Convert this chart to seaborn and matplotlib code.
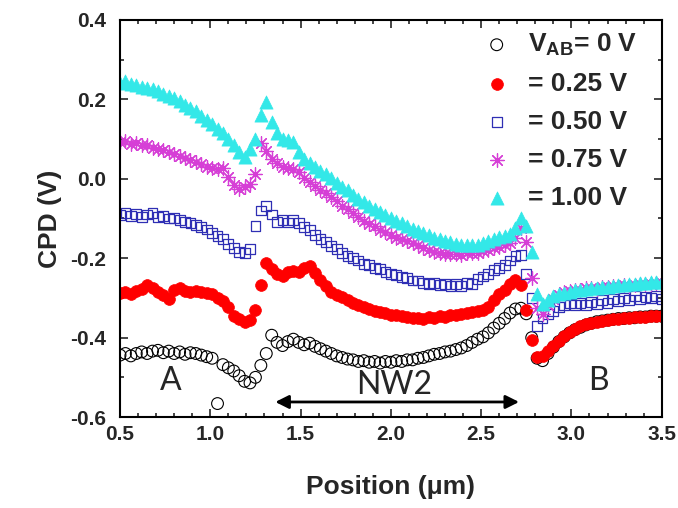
import numpy as np
import pandas as pd
import matplotlib
matplotlib.use("Agg")
import matplotlib.pyplot as plt
from matplotlib.ticker import MultipleLocator
import seaborn as sns

# Scan positions (um), shared by all bias voltages
position = [
    0.50, 0.53, 0.56, 0.59, 0.62, 0.65, 0.68, 0.71, 0.74, 0.77,
    0.80, 0.83, 0.86, 0.89, 0.92, 0.95, 0.98, 1.01, 1.04, 1.07,
    1.10, 1.13, 1.16, 1.19, 1.22, 1.25, 1.28, 1.31, 1.34, 1.37,
    1.40, 1.43, 1.46, 1.49, 1.52, 1.55, 1.58, 1.61, 1.64, 1.67,
    1.70, 1.73, 1.76, 1.79, 1.82, 1.85, 1.88, 1.91, 1.94, 1.97,
    2.00, 2.03, 2.06, 2.09, 2.12, 2.15, 2.18, 2.21, 2.24, 2.27,
    2.30, 2.33, 2.36, 2.39, 2.42, 2.45, 2.48, 2.51, 2.54, 2.57,
    2.60, 2.63, 2.66, 2.69, 2.72, 2.75, 2.78, 2.81, 2.84, 2.87,
    2.90, 2.93, 2.96, 2.99, 3.02, 3.05, 3.08, 3.11, 3.14, 3.17,
    3.20, 3.23, 3.26, 3.29, 3.32, 3.35, 3.38, 3.41, 3.44, 3.47,
    3.50,
]

# CPD (V) for each bias V_AB
cpd_0v = [
    -0.444, -0.440, -0.446, -0.440, -0.436, -0.440, -0.434, -0.432, -0.438, -0.434,
    -0.440, -0.436, -0.442, -0.438, -0.440, -0.444, -0.448, -0.452, -0.566, -0.468,
    -0.476, -0.484, -0.496, -0.510, -0.514, -0.500, -0.470, -0.440, -0.394, -0.412,
    -0.420, -0.410, -0.404, -0.412, -0.418, -0.414, -0.422, -0.428, -0.434, -0.440,
    -0.446, -0.450, -0.454, -0.456, -0.460, -0.458, -0.462, -0.460, -0.464, -0.460,
    -0.462, -0.458, -0.460, -0.456, -0.456, -0.452, -0.450, -0.446, -0.442, -0.440,
    -0.436, -0.434, -0.430, -0.426, -0.420, -0.412, -0.404, -0.398, -0.388, -0.376,
    -0.364, -0.352, -0.338, -0.328, -0.326, -0.340, -0.400, -0.452, -0.458, -0.440,
    -0.424, -0.410, -0.398, -0.388, -0.380, -0.374, -0.368, -0.364, -0.360, -0.358,
    -0.356, -0.354, -0.352, -0.352, -0.350, -0.350, -0.348, -0.348, -0.346, -0.346,
    -0.346,
]
cpd_025v = [
    -0.288, -0.286, -0.290, -0.282, -0.278, -0.268, -0.274, -0.284, -0.292, -0.304,
    -0.280, -0.276, -0.282, -0.286, -0.282, -0.286, -0.288, -0.290, -0.300, -0.308,
    -0.322, -0.345, -0.352, -0.360, -0.356, -0.330, -0.268, -0.212, -0.228, -0.240,
    -0.246, -0.236, -0.232, -0.236, -0.226, -0.220, -0.238, -0.256, -0.270, -0.284,
    -0.292, -0.298, -0.306, -0.312, -0.318, -0.324, -0.328, -0.332, -0.336, -0.338,
    -0.342, -0.344, -0.346, -0.348, -0.350, -0.350, -0.352, -0.348, -0.350, -0.346,
    -0.348, -0.344, -0.344, -0.340, -0.338, -0.336, -0.334, -0.330, -0.322, -0.306,
    -0.290, -0.280, -0.266, -0.256, -0.268, -0.330, -0.405, -0.448, -0.446, -0.434,
    -0.420, -0.408, -0.396, -0.386, -0.378, -0.372, -0.366, -0.362, -0.360, -0.358,
    -0.356, -0.354, -0.352, -0.350, -0.350, -0.348, -0.348, -0.347, -0.346, -0.346,
    -0.345,
]
cpd_050v = [
    -0.092, -0.086, -0.094, -0.088, -0.096, -0.090, -0.086, -0.096, -0.094, -0.100,
    -0.098, -0.104, -0.108, -0.112, -0.116, -0.122, -0.128, -0.136, -0.144, -0.152,
    -0.164, -0.174, -0.184, -0.188, -0.176, -0.120, -0.080, -0.068, -0.090, -0.108,
    -0.104, -0.110, -0.104, -0.112, -0.122, -0.130, -0.142, -0.152, -0.160, -0.170,
    -0.176, -0.188, -0.194, -0.200, -0.206, -0.214, -0.218, -0.224, -0.228, -0.234,
    -0.240, -0.242, -0.248, -0.250, -0.256, -0.256, -0.262, -0.264, -0.262, -0.268,
    -0.266, -0.270, -0.266, -0.270, -0.262, -0.266, -0.252, -0.246, -0.240, -0.230,
    -0.224, -0.218, -0.206, -0.194, -0.192, -0.240, -0.300, -0.370, -0.352, -0.340,
    -0.332, -0.322, -0.318, -0.314, -0.318, -0.312, -0.318, -0.310, -0.316, -0.306,
    -0.312, -0.302, -0.308, -0.300, -0.306, -0.296, -0.304, -0.298, -0.300, -0.296,
    -0.302,
]
cpd_075v = [
    0.092, 0.094, 0.088, 0.090, 0.084, 0.086, 0.078, 0.074, 0.072, 0.066,
    0.062, 0.058, 0.052, 0.046, 0.042, 0.036, 0.030, 0.026, 0.024, 0.028,
    0.005, -0.016, -0.026, -0.020, -0.014, 0.012, 0.090, 0.070, 0.050, 0.040,
    0.030, 0.026, 0.024, 0.018, 0.002, -0.008, -0.018, -0.028, -0.036, -0.045,
    -0.055, -0.068, -0.076, -0.086, -0.096, -0.106, -0.114, -0.120, -0.128, -0.134,
    -0.142, -0.148, -0.152, -0.158, -0.163, -0.168, -0.174, -0.179, -0.184, -0.186,
    -0.189, -0.190, -0.190, -0.191, -0.188, -0.188, -0.186, -0.182, -0.179, -0.175,
    -0.172, -0.168, -0.162, -0.150, -0.125, -0.160, -0.250, -0.325, -0.340, -0.318,
    -0.302, -0.292, -0.286, -0.282, -0.280, -0.279, -0.276, -0.275, -0.277, -0.273,
    -0.272, -0.271, -0.269, -0.268, -0.270, -0.267, -0.266, -0.265, -0.264, -0.263,
    -0.263,
]
cpd_100v = [
    0.240, 0.245, 0.238, 0.235, 0.232, 0.228, 0.226, 0.220, 0.214, 0.208,
    0.203, 0.195, 0.186, 0.178, 0.170, 0.158, 0.148, 0.138, 0.126, 0.116,
    0.100, 0.085, 0.068, 0.055, 0.075, 0.100, 0.160, 0.192, 0.142, 0.115,
    0.100, 0.098, 0.092, 0.068, 0.050, 0.040, 0.030, 0.020, 0.012, 0.002,
    -0.010, -0.020, -0.028, -0.040, -0.050, -0.058, -0.068, -0.075, -0.084, -0.092,
    -0.100, -0.106, -0.112, -0.118, -0.126, -0.131, -0.137, -0.141, -0.148, -0.153,
    -0.157, -0.160, -0.164, -0.166, -0.168, -0.168, -0.166, -0.163, -0.158, -0.152,
    -0.146, -0.143, -0.138, -0.125, -0.100, -0.120, -0.185, -0.290, -0.315, -0.305,
    -0.296, -0.291, -0.288, -0.284, -0.281, -0.279, -0.278, -0.276, -0.275, -0.273,
    -0.272, -0.270, -0.268, -0.267, -0.266, -0.264, -0.263, -0.262, -0.260, -0.260,
    -0.259,
]

labels = [r"V$_{\mathbf{AB}}$= 0 V", "= 0.25 V", "= 0.50 V", "= 0.75 V", "= 1.00 V"]
series = [cpd_0v, cpd_025v, cpd_050v, cpd_075v, cpd_100v]

sns.set_theme(style="ticks")
plt.rcParams["font.family"] = ["Liberation Sans", "DejaVu Sans"]
plt.rcParams["font.weight"] = "bold"
plt.rcParams["axes.unicode_minus"] = False
plt.rcParams["mathtext.fontset"] = "custom"
plt.rcParams["mathtext.bf"] = "Liberation Sans:bold"
plt.rcParams["mathtext.rm"] = "Liberation Sans:bold"

# marker styles per bias
styles = [
    dict(marker="o", s=72, facecolor="none", edgecolor="black", linewidths=0.8),
    dict(marker="o", s=72, color="#ff0000", edgecolor="#ff0000", linewidths=0.5),
    dict(marker="s", s=50, facecolor="none", edgecolor="#2f2fb4", linewidths=0.9),
    dict(marker=(8, 2, 0), s=95, color="#d63fd6", edgecolor="#d63fd6", linewidths=0.9),
    dict(marker="^", s=90, color="#33e8e8", edgecolor="#33e8e8", linewidths=0.5),
]

fig = plt.figure(figsize=(6.78, 5.08), dpi=100)
ax = fig.add_axes([0.177, 0.179, 0.799, 0.782])

for vals, lab, st in zip(series, labels, styles):
    sns.scatterplot(x=position, y=vals, ax=ax, label=lab, **st)

ax.set_xlim(0.5, 3.5)
ax.set_ylim(-0.6, 0.4)
ax.xaxis.set_major_locator(MultipleLocator(0.5))
ax.xaxis.set_minor_locator(MultipleLocator(0.1))
ax.yaxis.set_major_locator(MultipleLocator(0.2))
ax.yaxis.set_minor_locator(MultipleLocator(0.1))
ax.xaxis.set_major_formatter(lambda v, p: f"{v:.1f}")
ax.yaxis.set_major_formatter(lambda v, p: f"{v:.1f}")
ax.tick_params(which="both", direction="in", top=True, right=True,
               width=1.2, labelsize=15)
ax.tick_params(which="major", length=6)
ax.tick_params(which="minor", length=3)
ax.tick_params(axis="y", which="major", pad=10)
ax.tick_params(axis="x", which="major", pad=6)
for lbl in ax.get_xticklabels() + ax.get_yticklabels():
    lbl.set_fontweight("bold")
for sp in ax.spines.values():
    sp.set_linewidth(1.5)
    sp.set_color("black")

ax.set_xlabel("Position (μm)", fontsize=19, fontweight="bold", labelpad=22)
ax.set_ylabel("CPD (V)", fontsize=19, fontweight="bold", labelpad=6)

leg = ax.legend(loc="upper right", frameon=False, fontsize=19,
                handletextpad=0.2, labelspacing=0.53, borderaxespad=0.2,
                markerscale=1.0, bbox_to_anchor=(0.985, 1.01))
for t in leg.get_texts():
    t.set_fontweight("bold")

# region labels and nanowire span arrow
ax.annotate("", xy=(2.71, -0.562), xytext=(1.36, -0.562),
            arrowprops=dict(arrowstyle="<|-|>", color="black", lw=2,
                            mutation_scale=20, shrinkA=0, shrinkB=0))
ax.text(2.02, -0.52, "NW2", fontsize=23, fontweight="normal",
        family="Lato", ha="center", va="center")
ax.text(0.78, -0.51, "A", fontsize=23, fontweight="normal",
        family="Lato", ha="center", va="center")
ax.text(3.15, -0.51, "B", fontsize=23, fontweight="normal",
        family="Lato", ha="center", va="center")

fig.savefig("out.png", dpi=100)
